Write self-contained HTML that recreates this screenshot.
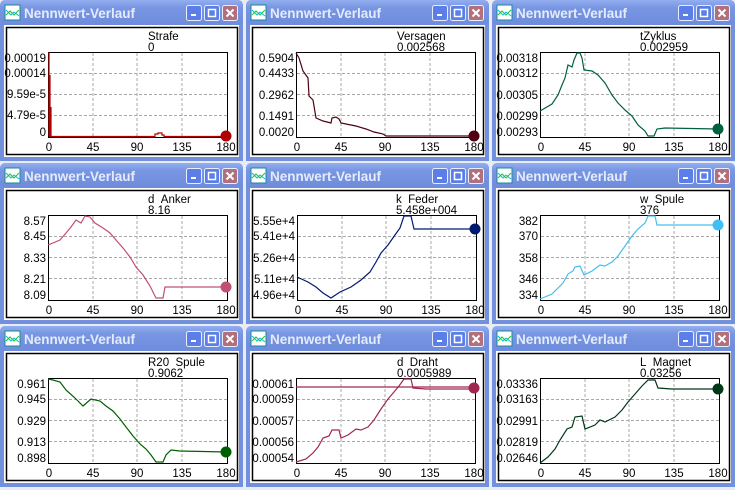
<!DOCTYPE html>
<html><head><meta charset="utf-8"><style>
html,body{margin:0;padding:0;background:#e8ecf4;}
svg{display:block;font-family:"Liberation Sans",sans-serif;}
.tt{font-weight:bold;font-size:13.5px;fill:#e4ecfb;}
.t{font-size:11.5px;fill:#000;}
.yl{font-size:11.5px;fill:#000;text-anchor:end;}
.xl{font-size:11.5px;fill:#000;text-anchor:middle;}
.g{stroke:#a8a8a8;stroke-dasharray:3,2;stroke-width:1;fill:none;}
.c{fill:none;stroke-width:1.2;}
</style></head><body>
<svg width="735" height="490" viewBox="0 0 735 490" xmlns="http://www.w3.org/2000/svg">
<defs>
<linearGradient id="tb" x1="0" y1="0" x2="0" y2="1"><stop offset="0" stop-color="#93aef0"/><stop offset="0.3" stop-color="#7896e2"/><stop offset="1" stop-color="#6f8cdc"/></linearGradient>
<g id="frame">
<path d="M0,6 Q0,0 6,0 H237 Q243,0 243,6 V161 H0 Z" fill="#7390dc"/>
<rect x="0" y="0" width="243" height="25" rx="6" fill="url(#tb)"/>
<rect x="4" y="25" width="235" height="132" fill="#fff"/>
<rect x="6.5" y="27.5" width="231" height="127" fill="none" stroke="#000" stroke-width="1.5"/>
<rect x="5" y="5" width="15" height="15" fill="#fff" stroke="#1a8a9a"/>
<path d="M6,10 L11,15 L14,12 L19,16" stroke="#00c0e0" fill="none"/>
<path d="M6,15 L10,11 L14,15 L19,10" stroke="#20c040" fill="none"/>
<text x="24" y="18" class="tt">Nennwert-Verlauf</text>
<rect x="186.5" y="5.5" width="15" height="15" rx="2" fill="#5c7ee8" stroke="#e8eefc"/>
<rect x="191" y="14" width="5" height="2" fill="#fff"/>
<rect x="204.5" y="5.5" width="15" height="15" rx="2" fill="#5c7ee8" stroke="#e8eefc"/>
<rect x="208.5" y="9.5" width="7" height="7" fill="none" stroke="#fff" stroke-width="1.5"/>
<rect x="222.5" y="5.5" width="15" height="15" rx="2" fill="#b0707c" stroke="#e8eefc"/>
<path d="M226.5,9.5 L233.5,16.5 M233.5,9.5 L226.5,16.5" stroke="#fff" stroke-width="2"/>
</g>
<g id="grid">
<rect x="0.5" y="0.5" width="179" height="85" fill="#fff" stroke="#000"/>
<path class="g" d="M45,1 V85 M89,1 V85 M134,1 V85 M1,21.5 H179 M1,42.5 H179 M1,63.5 H179"/>
</g>
</defs>

<g transform="translate(0,0)">
<use href="#frame"/>
<text x="148" y="40" class="t">Strafe</text><text x="148" y="51" class="t">0</text>
<g transform="translate(48,52)"><use href="#grid"/>
<g class="yl"><text x="-2" y="10">0.00019</text><text x="-2" y="25">0.00014</text><text x="-2" y="46">9.59e-5</text><text x="-2" y="67">4.79e-5</text><text x="-2" y="84">0</text></g>
<g class="xl"><text x="1" y="99">0</text><text x="45" y="99">45</text><text x="89" y="99">90</text><text x="134" y="99">135</text><text x="178" y="99">180</text></g>
<path class="c" stroke="#b00000" d="M1,0 V84 M2,23 V84 M3,55 V84 M1,84.5 H107 V82 H110 V81 H114 V83 H116 V84.5 H178"/>
<circle cx="178" cy="84" r="5.5" fill="#b00000"/>
</g></g>

<g transform="translate(246,0)">
<use href="#frame"/>
<text x="151" y="40" class="t">Versagen</text><text x="151" y="51" class="t">0.002568</text>
<g transform="translate(50,52)"><use href="#grid"/>
<g class="yl"><text x="-2" y="10">0.5904</text><text x="-2" y="25">0.4433</text><text x="-2" y="47">0.2962</text><text x="-2" y="68">0.1491</text><text x="-2" y="84">0.0020</text></g>
<g class="xl"><text x="1" y="99">0</text><text x="45" y="99">45</text><text x="89" y="99">90</text><text x="134" y="99">135</text><text x="178" y="99">180</text></g>
<polyline class="c" stroke="#500010" points="0,1 3,6 7,19 12,26 13,44 17,48 20,66 27,69 35,71 36,66 40,65 43,67 45,71 50,72 60,74 70,77 78,80 87,82 90,84 178,84"/>
<circle cx="178" cy="84" r="5.5" fill="#500010"/>
</g></g>

<g transform="translate(492,0)">
<use href="#frame"/>
<text x="148" y="40" class="t">tZyklus</text><text x="148" y="51" class="t">0.002959</text>
<g transform="translate(48,52)"><use href="#grid"/>
<g class="yl"><text x="-2" y="10">0.00318</text><text x="-2" y="25">0.00312</text><text x="-2" y="47">0.00305</text><text x="-2" y="68">0.00299</text><text x="-2" y="84">0.00293</text></g>
<g class="xl"><text x="1" y="99">0</text><text x="45" y="99">45</text><text x="89" y="99">90</text><text x="134" y="99">135</text><text x="178" y="99">180</text></g>
<polyline class="c" stroke="#006040" points="0,59 12,52 18,43 22,33 25,26 28,13 32,15 34,8 37,1 40,1 42,6 44,18 52,19 58,23 65,31 72,43 78,51 85,58 92,64 98,73 105,79 108,84 114,84 117,77 125,76 178,77"/>
<circle cx="178" cy="77" r="5.5" fill="#006040"/>
</g></g>

<g transform="translate(0,163)">
<use href="#frame"/>
<text x="148" y="40" class="t">d&#160;&#160;Anker</text><text x="148" y="51" class="t">8.16</text>
<g transform="translate(48,52)"><use href="#grid"/>
<g class="yl"><text x="-2" y="10">8.57</text><text x="-2" y="25">8.45</text><text x="-2" y="47">8.33</text><text x="-2" y="68">8.21</text><text x="-2" y="84">8.09</text></g>
<g class="xl"><text x="1" y="99">0</text><text x="45" y="99">45</text><text x="89" y="99">90</text><text x="134" y="99">135</text><text x="178" y="99">180</text></g>
<polyline class="c" stroke="#c05070" points="0,30 12,25 18,18 23,12 28,5 33,8 37,1 42,2 47,8 55,13 62,18 68,25 75,33 82,42 88,52 95,60 102,71 108,83 115,83 117,72 132,72 178,72"/>
<circle cx="178" cy="72" r="5.5" fill="#c05070"/>
</g></g>

<g transform="translate(246,163)">
<use href="#frame"/>
<text x="150" y="40" class="t">k&#160;&#160;Feder</text><text x="150" y="51" class="t">5.458e+004</text>
<g transform="translate(51,52)"><use href="#grid"/>
<g class="yl"><text x="-2" y="10">5.55e+4</text><text x="-2" y="25">5.41e+4</text><text x="-2" y="47">5.26e+4</text><text x="-2" y="68">5.11e+4</text><text x="-2" y="84">4.96e+4</text></g>
<g class="xl"><text x="1" y="99">0</text><text x="45" y="99">45</text><text x="89" y="99">90</text><text x="134" y="99">135</text><text x="178" y="99">180</text></g>
<polyline class="c" stroke="#001a70" points="0,62 11,67 19,72 26,78 34,83 43,77 54,72 64,65 73,57 79,47 84,38 91,30 98,20 103,13 107,1 114,1 117,14 131,14 178,14"/>
<circle cx="178" cy="14" r="5.5" fill="#001a70"/>
</g></g>

<g transform="translate(492,163)">
<use href="#frame"/>
<text x="148" y="40" class="t">w&#160;&#160;Spule</text><text x="148" y="51" class="t">376</text>
<g transform="translate(48,52)"><use href="#grid"/>
<g class="yl"><text x="-2" y="10">382</text><text x="-2" y="25">370</text><text x="-2" y="47">358</text><text x="-2" y="68">346</text><text x="-2" y="84">334</text></g>
<g class="xl"><text x="1" y="99">0</text><text x="45" y="99">45</text><text x="89" y="99">90</text><text x="134" y="99">135</text><text x="178" y="99">180</text></g>
<polyline class="c" stroke="#40c0f0" points="0,84 12,79 18,73 23,68 28,59 33,56 35,52 40,51 44,60 52,56 60,50 65,51 72,47 78,41 85,31 92,21 98,14 105,8 108,1 115,1 117,10 132,10 178,10"/>
<circle cx="178" cy="10" r="5.5" fill="#40c0f0"/>
</g></g>

<g transform="translate(0,326)">
<use href="#frame"/>
<text x="148" y="40" class="t">R20&#160;&#160;Spule</text><text x="148" y="51" class="t">0.9062</text>
<g transform="translate(48,52)"><use href="#grid"/>
<g class="yl"><text x="-2" y="10">0.961</text><text x="-2" y="25">0.945</text><text x="-2" y="47">0.929</text><text x="-2" y="68">0.913</text><text x="-2" y="84">0.898</text></g>
<g class="xl"><text x="1" y="99">0</text><text x="45" y="99">45</text><text x="89" y="99">90</text><text x="134" y="99">135</text><text x="178" y="99">180</text></g>
<polyline class="c" stroke="#006000" points="0,1 5,2 12,4 18,12 27,20 35,28 43,21 52,23 58,28 65,33 72,41 78,49 85,58 92,66 98,71 103,77 108,84 115,84 118,77 123,72 132,73 178,74"/>
<circle cx="178" cy="74" r="5.5" fill="#006000"/>
</g></g>

<g transform="translate(246,326)">
<use href="#frame"/>
<text x="151" y="40" class="t">d&#160;&#160;Draht</text><text x="151" y="51" class="t">0.0005989</text>
<g transform="translate(50,52)"><use href="#grid"/>
<g class="yl"><text x="-2" y="10">0.00061</text><text x="-2" y="25">0.00059</text><text x="-2" y="47">0.00057</text><text x="-2" y="68">0.00056</text><text x="-2" y="84">0.00054</text></g>
<g class="xl"><text x="1" y="99">0</text><text x="45" y="99">45</text><text x="89" y="99">90</text><text x="134" y="99">135</text><text x="178" y="99">180</text></g>
<path class="c" stroke="#a02850" d="M0,9 H178"/>
<polyline class="c" stroke="#a02850" points="0,84 10,81 17,75 22,69 27,60 33,58 36,52 43,52 45,60 52,57 60,51 65,52 72,49 78,42 85,31 92,21 98,14 103,8 108,1 115,1 117,10 130,11 178,11"/>
<circle cx="178" cy="10" r="5.5" fill="#a02850"/>
</g></g>

<g transform="translate(492,326)">
<use href="#frame"/>
<text x="148" y="40" class="t">L&#160;&#160;Magnet</text><text x="148" y="51" class="t">0.03256</text>
<g transform="translate(48,52)"><use href="#grid"/>
<g class="yl"><text x="-2" y="10">0.03336</text><text x="-2" y="25">0.03163</text><text x="-2" y="47">0.02991</text><text x="-2" y="68">0.02819</text><text x="-2" y="84">0.02646</text></g>
<g class="xl"><text x="1" y="99">0</text><text x="45" y="99">45</text><text x="89" y="99">90</text><text x="134" y="99">135</text><text x="178" y="99">180</text></g>
<polyline class="c" stroke="#003818" points="0,85 8,79 15,71 20,62 27,51 32,49 35,39 42,38 45,51 55,47 60,42 65,44 75,39 82,32 88,24 95,16 102,8 108,2 115,2 118,10 132,11 178,11"/>
<circle cx="178" cy="11" r="5.5" fill="#003818"/>
</g></g>
</svg>
</body></html>
